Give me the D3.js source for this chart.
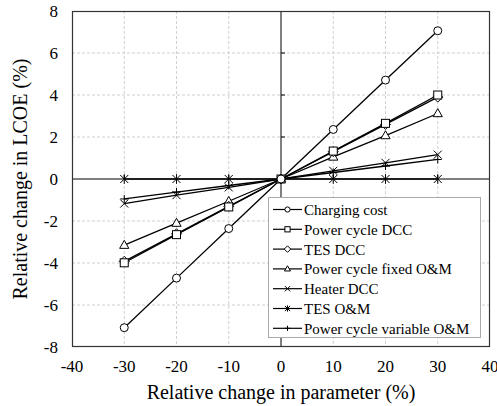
<!DOCTYPE html>
<html><head><meta charset="utf-8">
<script src="https://cdn.jsdelivr.net/npm/d3@7"></script>
<style>body{margin:0;background:#fff}
svg text{font-family:"Times New Roman","Liberation Serif",Tinos !important}</style>
</head><body>
<svg id="c" width="497" height="406" font-family="Liberation Serif"></svg>
<script>
const xValues = [-30, -20, -10, 0, 10, 20, 30];
const chargingCost = [-7.08, -4.72, -2.36, 0, 2.36, 4.71, 7.06];
const powerCycleDCC = [-3.99, -2.65, -1.33, 0, 1.33, 2.65, 4.00];
const tesDCC = [-3.92, -2.61, -1.30, 0, 1.30, 2.60, 3.90];
const powerCycleFixedOM = [-3.15, -2.10, -1.06, 0, 1.05, 2.07, 3.12];
const heaterDCC = [-1.17, -0.77, -0.40, 0, 0.39, 0.77, 1.16];
const tesOM = [0, 0, 0, 0, 0, 0, 0];
const powerCycleVariableOM = [-0.95, -0.62, -0.31, 0, 0.31, 0.62, 0.93];
const seriesNames = ["Charging cost","Power cycle DCC","TES DCC","Power cycle fixed O&M","Heater DCC","TES O&M","Power cycle variable O&M"];
const seriesMarkers = ["circle","square","diamond","triangle","x","asterisk","plus"];
const seriesData = [chargingCost, powerCycleDCC, tesDCC, powerCycleFixedOM, heaterDCC, tesOM, powerCycleVariableOM];
const xTicks = [-40,-30,-20,-10,0,10,20,30,40];
const yTicks = [-8,-6,-4,-2,0,2,4,6,8];

const svg = d3.select("#c");
const L = 72, R = 490, T = 11, B = 347;
const x = d3.scaleLinear().domain([-40, 40]).range([L, R]);
const y = d3.scaleLinear().domain([-8, 8]).range([B, T]);
const FONT = '"Times New Roman"';

// grid
const g = svg.append("g");
g.selectAll(".gx").data(xTicks.filter(d => d > -40 && d < 40 && d !== 0)).enter().append("line")
  .attr("x1", d => x(d)).attr("x2", d => x(d)).attr("y1", T).attr("y2", B)
  .attr("stroke", "#d0d0d0").attr("stroke-dasharray", "3,2").attr("stroke-width", 1);
g.selectAll(".gy").data(yTicks.filter(d => d > -8 && d < 8 && d !== 0)).enter().append("line")
  .attr("y1", d => y(d)).attr("y2", d => y(d)).attr("x1", L).attr("x2", R)
  .attr("stroke", "#d0d0d0").attr("stroke-dasharray", "3,2").attr("stroke-width", 1);

// zero axes
svg.append("line").attr("x1", x(0)).attr("x2", x(0)).attr("y1", T).attr("y2", B).attr("stroke", "#000").attr("stroke-width", 1);
svg.append("line").attr("x1", L).attr("x2", R).attr("y1", y(0)).attr("y2", y(0)).attr("stroke", "#000").attr("stroke-width", 1);
svg.selectAll(".yt").data(yTicks.filter(d => d > -8 && d < 8)).enter().append("line")
  .attr("x1", x(0)).attr("x2", x(0) + 4).attr("y1", d => y(d)).attr("y2", d => y(d)).attr("stroke", "#000");
svg.selectAll(".xt").data(xTicks.filter(d => d > -40 && d < 40)).enter().append("line")
  .attr("x1", d => x(d)).attr("x2", d => x(d)).attr("y1", y(0)).attr("y2", y(0) - 4).attr("stroke", "#000");

// frame
svg.append("rect").attr("x", L + 0.5).attr("y", T + 0.5).attr("width", R - L - 1).attr("height", B - T - 1)
  .attr("fill", "none").attr("stroke", "#333").attr("stroke-width", 1.2);

// tick labels
svg.selectAll(".xl").data(xTicks).enter().append("text")
  .attr("x", d => x(d)).attr("y", B + 25).attr("text-anchor", "middle")
  .style("font-family", FONT).style("font-size", "17px").text(d => d);
svg.selectAll(".yl").data(yTicks).enter().append("text")
  .attr("x", L - 14).attr("y", d => y(d) + 6).attr("text-anchor", "end")
  .style("font-family", FONT).style("font-size", "17px").text(d => d);

// axis titles
svg.append("text").attr("x", x(0)).attr("y", B + 52).attr("text-anchor", "middle")
  .style("font-family", FONT).style("font-size", "20px").text("Relative change in parameter (%)");
svg.append("text").attr("transform", `translate(27,${y(0)}) rotate(-90)`).attr("text-anchor", "middle")
  .style("font-family", FONT).style("font-size", "20px").text("Relative change in LCOE (%)");

function marker(sel, type, s) {
  const h = s;
  if (type === "circle") sel.append("circle").attr("r", h).attr("fill", "#fff").attr("stroke", "#000");
  else if (type === "square") sel.append("rect").attr("x", -h).attr("y", -h).attr("width", 2*h).attr("height", 2*h).attr("fill", "#fff").attr("stroke", "#000");
  else if (type === "diamond") sel.append("path").attr("d", `M0,${-h*1.25}L${h*1.25},0L0,${h*1.25}L${-h*1.25},0Z`).attr("fill", "#fff").attr("stroke", "#000");
  else if (type === "triangle") sel.append("path").attr("d", `M0,${-h*1.2}L${h*1.15},${h*0.8}L${-h*1.15},${h*0.8}Z`).attr("fill", "#fff").attr("stroke", "#000");
  else if (type === "x") sel.append("path").attr("d", `M${-h},${-h}L${h},${h}M${-h},${h}L${h},${-h}`).attr("stroke", "#000").attr("fill", "none");
  else if (type === "asterisk") sel.append("path").attr("d", `M${-h},${-h}L${h},${h}M${-h},${h}L${h},${-h}M0,${-h*1.2}L0,${h*1.2}`).attr("stroke", "#000").attr("fill", "none");
  else if (type === "plus") sel.append("path").attr("d", `M${-h},0L${h},0M0,${-h}L0,${h}`).attr("stroke", "#000").attr("fill", "none");
}

const line = d3.line().x((d, i) => x(xValues[i])).y(d => y(d));
const order = [6, 5, 4, 3, 2, 1, 0];
order.forEach(si => {
  svg.append("path").datum(seriesData[si]).attr("d", line).attr("fill", "none").attr("stroke", "#000").attr("stroke-width", 1.3);
});
order.forEach(si => {
  seriesData[si].forEach((v, i) => {
    const m = svg.append("g").attr("transform", `translate(${x(xValues[i])},${y(v)})`);
    marker(m, seriesMarkers[si], 4);
  });
});

// legend
const lg = svg.append("g");
lg.append("rect").attr("x", 268.5).attr("y", 197.5).attr("width", 212).attr("height", 140)
  .attr("fill", "#fff").attr("stroke", "#aaa").attr("stroke-width", 1);
seriesNames.forEach((n, i) => {
  const yy = 209.5 + i * 19.8;
  lg.append("line").attr("x1", 273).attr("x2", 302).attr("y1", yy).attr("y2", yy).attr("stroke", "#000").attr("stroke-width", 1.2);
  const m = lg.append("g").attr("transform", `translate(287.5,${yy})`);
  marker(m, seriesMarkers[i], 2.6);
  lg.append("text").attr("x", 304).attr("y", yy + 5.5).style("font-family", FONT).style("font-size", "15px").text(n);
});
</script>
</body></html>
